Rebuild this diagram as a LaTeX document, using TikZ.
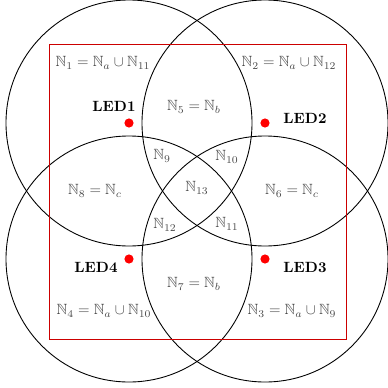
\documentclass[tikz,border=0pt]{standalone}
\usepackage{amsmath,amssymb}
\begin{document}
\begin{tikzpicture}[x=0.675pt,y=-0.675pt,
  ring/.style={draw=black,line width=0.6pt},
  area/.style={draw=red!80!black,line width=0.5pt},
  lbl/.style={text=black!72,inner sep=0pt},
  ledlbl/.style={font=\bfseries,inner sep=0pt},
  leddot/.style={circle,fill=red,inner sep=0pt,minimum size=6.2pt}]
\useasboundingbox (0,0) rectangle (388,387);
% LED positions (circle centres)
\coordinate (c1) at (129,123);
\coordinate (c2) at (265,123);
\coordinate (c3) at (265,259);
\coordinate (c4) at (129,259);
% coverage circles
\foreach \c in {c1,c2,c3,c4} \draw[ring] (\c) circle[radius=123*0.675pt];
% area
\draw[area] (49,44) rectangle (346,339);
% LEDs
\node[leddot] (d1) at (c1) {};
\node[leddot] (d2) at (c2) {};
\node[leddot] (d3) at (c3) {};
\node[leddot] (d4) at (c4) {};
\node[ledlbl] (l1) at (114,106) {LED1};
\node[ledlbl] (l2) at (305,118) {LED2};
\node[ledlbl] (l3) at (305,267) {LED3};
\node[ledlbl] (l4) at (96,267) {LED4};
% region labels
\node[lbl] (n1) at (103,63) {$\mathbb{N}_1=\mathbb{N}_a\cup\mathbb{N}_{11}$};
\node[lbl] (n2) at (289,63) {$\mathbb{N}_2=\mathbb{N}_a\cup\mathbb{N}_{12}$};
\node[lbl] (n3) at (292,311) {$\mathbb{N}_3=\mathbb{N}_a\cup\mathbb{N}_{9}$};
\node[lbl] (n4) at (104,311) {$\mathbb{N}_4=\mathbb{N}_a\cup\mathbb{N}_{10}$};
\node[lbl] (n5) at (194,107) {$\mathbb{N}_5=\mathbb{N}_b$};
\node[lbl] (n7) at (194,284) {$\mathbb{N}_7=\mathbb{N}_b$};
\node[lbl] (n8) at (95,191) {$\mathbb{N}_8=\mathbb{N}_c$};
\node[lbl] (n6) at (292,191) {$\mathbb{N}_6=\mathbb{N}_c$};
\node[lbl] (n9) at (162,156) {$\mathbb{N}_9$};
\node[lbl] (n10) at (227,157) {$\mathbb{N}_{10}$};
\node[lbl] (n11) at (227,224) {$\mathbb{N}_{11}$};
\node[lbl] (n12) at (165,225) {$\mathbb{N}_{12}$};
\node[lbl] (n13) at (197,188) {$\mathbb{N}_{13}$};
\end{tikzpicture}
\end{document}
